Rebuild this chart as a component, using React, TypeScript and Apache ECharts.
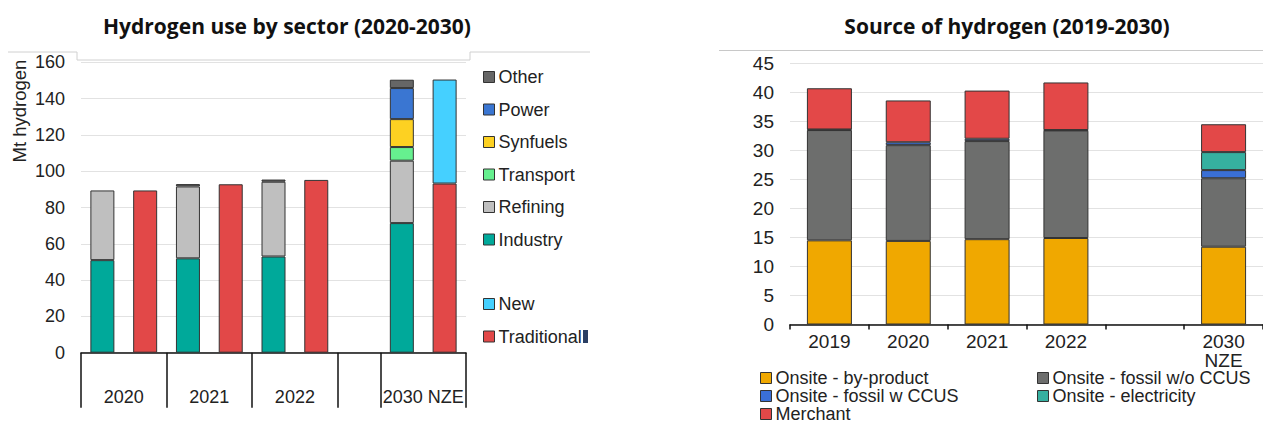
import React, { useEffect, useRef } from "react";
import * as echarts from "echarts";

// ---------- Left chart: Hydrogen use by sector ----------
const leftSlots = ["2020-s", "2020-o", "2021-s", "2021-o", "2022-s", "2022-o", "gap", "2030-s", "2030-o"];
const leftGroupLabels = ["", "2020", "", "2021", "", "2022", "", "", "2030 NZE", ""];
const leftBoundarySlots = [0, 2, 4, 6, 7];
const industry = [51, "-", 52, "-", 53, "-", "-", 71.4, "-"];
const refining = [38.4, "-", 39.6, "-", 41.2, "-", "-", 34.4, "-"];
const transport = ["-", "-", "-", "-", "-", "-", "-", 7.5, "-"];
const synfuels = ["-", "-", "-", "-", "-", "-", "-", 15.4, "-"];
const power = ["-", "-", "-", "-", "-", "-", "-", 17.1, "-"];
const other = ["-", "-", 1.3, "-", 1.2, "-", "-", 4.6, "-"];
const traditional = ["-", 89.4, "-", 92.8, "-", 95.2, "-", "-", 93.2];
const newUse = ["-", "-", "-", "-", "-", "-", "-", "-", 57.3];

// ---------- Right chart: Source of hydrogen ----------
const rightCategories = ["2019", "2020", "2021", "2022", "", "2030\nNZE"];
const byProduct = [14.5, 14.4, 14.7, 14.9, "-", 13.4];
const fossilNoCcus = [19.0, 16.5, 16.9, 18.5, "-", 11.8];
const fossilCcus = [0.1, 0.5, 0.4, 0.1, "-", 1.4];
const electricity = ["-", "-", "-", "-", "-", 3.1];
const merchant = [7.1, 7.2, 8.3, 8.2, "-", 4.8];

const FONT = "'Liberation Sans', Arial, sans-serif";
const TITLE_FONT = "'Open Sans', Lato, sans-serif";
const BORDER = "#333333";

export default function App() {
  const ref = useRef<HTMLDivElement>(null);

  useEffect(() => {
    if (!ref.current) return;
    const chart = echarts.init(ref.current, undefined, { renderer: "svg" });

    const leftBar = (name: string, data: any[], color: string) => ({
      name,
      type: "bar",
      stack: "left",
      xAxisIndex: 0,
      yAxisIndex: 0,
      barWidth: 24,
      data,
      itemStyle: { color, borderColor: BORDER, borderWidth: 1 },
    });
    const rightBar = (name: string, data: any[], color: string) => ({
      name,
      type: "bar",
      stack: "right",
      xAxisIndex: 2,
      yAxisIndex: 1,
      barWidth: 45,
      data,
      itemStyle: { color, borderColor: BORDER, borderWidth: 1 },
    });

    const legendCommon = {
      orient: "vertical",
      icon: "rect",
      itemWidth: 11,
      itemHeight: 11,
      padding: 0,
      selectedMode: false,
      itemStyle: { borderColor: BORDER, borderWidth: 1 },
      textStyle: { fontFamily: FONT, fontSize: 18, color: "#222", lineHeight: 18, padding: [0, 0, 0, -1] },
    };

    chart.setOption({
      animation: false,
      backgroundColor: "#ffffff",
      title: [
        {
          text: "Hydrogen use by sector (2020-2030)",
          left: 287,
          top: 15,
          textAlign: "center",
          padding: 0,
          textStyle: { fontFamily: TITLE_FONT, fontWeight: "bold", fontSize: 21, color: "#111" },
        },
        {
          text: "Source of hydrogen (2019-2030)",
          left: 1007,
          top: 15,
          textAlign: "center",
          padding: 0,
          textStyle: { fontFamily: TITLE_FONT, fontWeight: "bold", fontSize: 21, color: "#111" },
        },
      ],
      legend: [
        { ...legendCommon, left: 483, top: 68, height: 200, itemGap: 14.5, data: ["Other", "Power", "Synfuels", "Transport", "Refining", "Industry"] },
        { ...legendCommon, left: 483, top: 295, height: 100, itemGap: 14.5, data: ["New", "Traditional"] },
        { ...legendCommon, left: 760, top: 369, height: 120, itemGap: 0, data: ["Onsite - by-product", "Onsite - fossil w CCUS", "Merchant"] },
        { ...legendCommon, left: 1037, top: 369, height: 120, itemGap: 0, data: ["Onsite - fossil w/o CCUS", "Onsite - electricity"] },
      ],
      grid: [
        { left: 81, top: 62.3, width: 385, height: 290.4 },
        { left: 790, top: 63.3, width: 474, height: 261.2 },
      ],
      xAxis: [
        {
          type: "category",
          gridIndex: 0,
          data: leftSlots,
          position: "bottom",
          axisLine: { lineStyle: { color: "#111", width: 1.5 } },
          axisTick: {
            show: true,
            alignWithLabel: false,
            length: 55,
            interval: (i: number) => leftBoundarySlots.includes(i),
            lineStyle: { color: "#111", width: 1.5 },
          },
          axisLabel: { show: false },
          splitLine: { show: false },
        },
        {
          type: "value",
          gridIndex: 0,
          position: "bottom",
          min: 0,
          max: 9,
          interval: 1,
          axisLine: { show: false },
          axisTick: { show: false },
          splitLine: { show: false },
          axisLabel: {
            margin: 35,
            fontFamily: FONT,
            fontSize: 18,
            color: "#222",
            formatter: (v: number) => leftGroupLabels[Math.round(v)] ?? "",
          },
        },
        {
          type: "category",
          gridIndex: 1,
          data: rightCategories,
          axisLine: { lineStyle: { color: "#111", width: 1.5 } },
          axisTick: { show: true, alignWithLabel: false, interval: 0, length: 5, lineStyle: { color: "#111", width: 1.5 } },
          axisLabel: { margin: 7, fontFamily: FONT, fontSize: 19, color: "#222", lineHeight: 19, interval: 0 },
        },
      ],
      yAxis: [
        {
          type: "value",
          gridIndex: 0,
          min: 0,
          max: 160,
          interval: 20,
          axisLine: { show: false },
          axisTick: { show: false },
          axisLabel: { margin: 16, fontFamily: FONT, fontSize: 18, color: "#222" },
          splitLine: { lineStyle: { color: "#E2E2E2", width: 1.2 } },
        },
        {
          type: "value",
          gridIndex: 1,
          min: 0,
          max: 45,
          interval: 5,
          axisLine: { show: false },
          axisTick: { show: false },
          axisLabel: { margin: 16, fontFamily: FONT, fontSize: 19, color: "#222" },
          splitLine: { lineStyle: { color: "#E2E2E2", width: 1.2 } },
        },
      ],
      series: [
        leftBar("Industry", industry, "#00A99A"),
        leftBar("Refining", refining, "#BFBFBF"),
        leftBar("Transport", transport, "#66F08F"),
        leftBar("Synfuels", synfuels, "#FDD122"),
        leftBar("Power", power, "#3A76D2"),
        leftBar("Other", other, "#666666"),
        leftBar("Traditional", traditional, "#E24848"),
        leftBar("New", newUse, "#45D0FF"),
        rightBar("Onsite - by-product", byProduct, "#F0A800"),
        rightBar("Onsite - fossil w/o CCUS", fossilNoCcus, "#6D6E6D"),
        rightBar("Onsite - fossil w CCUS", fossilCcus, "#3A6FD6"),
        rightBar("Onsite - electricity", electricity, "#36B0A0"),
        rightBar("Merchant", merchant, "#E34848"),
      ],
      graphic: [
        {
          type: "text",
          x: 19,
          y: 111,
          rotation: Math.PI / 2,
          style: {
            text: "Mt hydrogen",
            fontFamily: FONT,
            fontSize: 18.5,
            fill: "#222",
            textAlign: "center",
            textVerticalAlign: "middle",
          },
        },
        {
          type: "polyline",
          shape: { points: [[8, 52], [77, 52], [77, 60], [470, 60], [470, 52], [590, 52]] },
          style: { stroke: "#D0D0D0", lineWidth: 1, fill: "none" },
          silent: true,
        },
        {
          type: "line",
          shape: { x1: 719, y1: 50.5, x2: 1263, y2: 50.5 },
          style: { stroke: "#C8C8C8", lineWidth: 1 },
          silent: true,
        },
        {
          type: "rect",
          shape: { x: 583, y: 330, width: 5, height: 13 },
          style: { fill: "#2B3F63" },
          silent: true,
        },
      ],
    });

    return () => chart.dispose();
  }, []);

  return (
    <div
      ref={ref}
      style={{ position: "absolute", left: 0, top: 0, width: 1263, height: 423 }}
    />
  );
}
